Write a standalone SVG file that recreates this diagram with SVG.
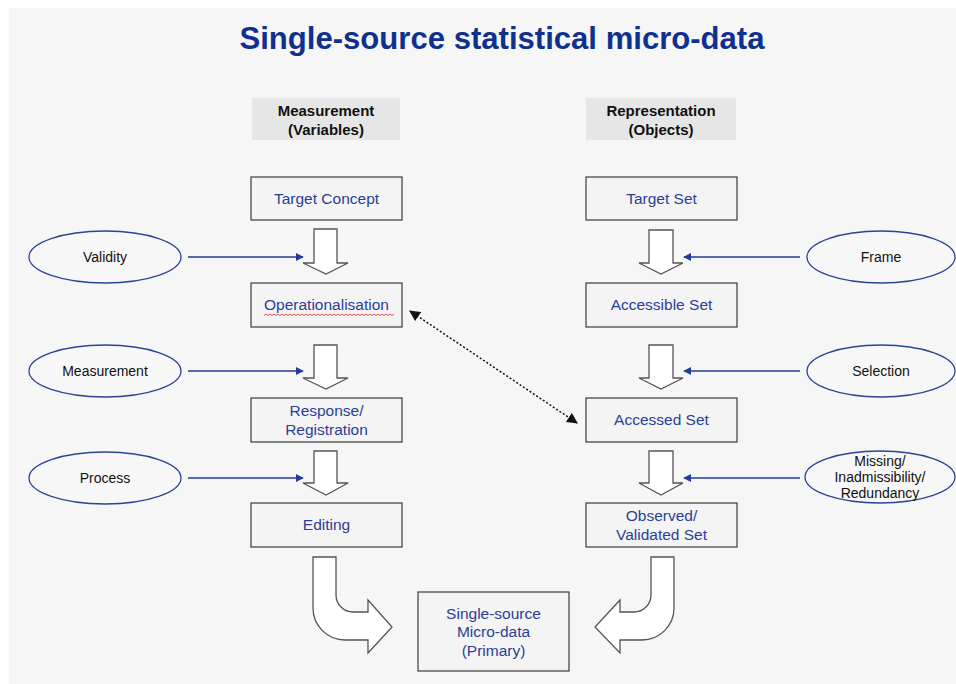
<svg xmlns="http://www.w3.org/2000/svg" width="956" height="684" viewBox="0 0 956 684">
  <defs>
    <style>
      .box { fill: #f4f4f4; stroke: #3a3a3a; stroke-width: 1.2; }
      .hdr { fill: #e6e6e6; stroke: none; }
      .hdrtxt { font-family: "Liberation Sans", Arial, sans-serif; font-size: 15px; font-weight: bold; fill: #111; text-anchor: middle; }
      .btxt { font-family: "Liberation Sans", Arial, sans-serif; font-size: 15.5px; fill: #2a3f98; text-anchor: middle; }
      .ell { fill: #f7f7f7; stroke: #2c4494; stroke-width: 1.3; }
      .etxt { font-family: "Liberation Sans", Arial, sans-serif; font-size: 14px; fill: #111; text-anchor: middle; }
      .blk { fill: #ffffff; stroke: #555; stroke-width: 1.3; stroke-linejoin: miter; }
      .feed { stroke: #1f3d99; stroke-width: 1.5; fill: none; marker-end: url(#blueHead); }
      .dots { stroke: #111; stroke-width: 1.5; stroke-dasharray: 2 2; fill: none; marker-start: url(#blackStart); marker-end: url(#blackEnd); }
    </style>
    <marker id="blueHead" viewBox="0 0 10 10" refX="9" refY="5" markerWidth="8" markerHeight="8" markerUnits="userSpaceOnUse" orient="auto">
      <path d="M0,0 L10,5 L0,10 z" fill="#1f3d99"/>
    </marker>
    <marker id="blackEnd" viewBox="0 0 10 10" refX="9" refY="5" markerWidth="11" markerHeight="11" markerUnits="userSpaceOnUse" orient="auto">
      <path d="M0,0 L10,5 L0,10 z" fill="#111"/>
    </marker>
    <marker id="blackStart" viewBox="0 0 10 10" refX="1" refY="5" markerWidth="11" markerHeight="11" markerUnits="userSpaceOnUse" orient="auto">
      <path d="M10,0 L0,5 L10,10 z" fill="#111"/>
    </marker>
  </defs>

  <!-- slide background -->
  <rect x="0" y="0" width="956" height="684" fill="#ffffff"/>
  <rect x="9" y="8" width="947" height="676" fill="#f6f6f6"/>

  <!-- title -->
  <text x="502" y="49" font-family="'Liberation Sans', Arial, sans-serif" font-size="31" font-weight="bold" fill="#10308f" text-anchor="middle" textLength="525" lengthAdjust="spacingAndGlyphs">Single-source statistical micro-data</text>

  <!-- column headers -->
  <g id="hdr-measurement">
    <rect class="hdr" x="252" y="98" width="148" height="42"/>
    <text class="hdrtxt" x="326" y="116">Measurement</text>
    <text class="hdrtxt" x="326" y="135">(Variables)</text>
  </g>
  <g id="hdr-representation">
    <rect class="hdr" x="586" y="98" width="150" height="42"/>
    <text class="hdrtxt" x="661" y="116">Representation</text>
    <text class="hdrtxt" x="661" y="135">(Objects)</text>
  </g>

  <!-- connectors -->
  <g id="connectors">
    <!-- block arrows, measurement column -->
    <polygon class="blk" points="314,229 337,229 337,263 348,263 326,274 303,263 314,263"/>
    <polygon class="blk" points="314,345 337,345 337,378 348,378 326,389 303,378 314,378"/>
    <polygon class="blk" points="314,451 337,451 337,483 348,483 326,495 303,483 314,483"/>
    <!-- block arrows, representation column -->
    <polygon class="blk" points="649,230 673,230 673,263 683,263 661,274 639,263 649,263"/>
    <polygon class="blk" points="649,345 673,345 673,378 683,378 661,389 639,378 649,378"/>
    <polygon class="blk" points="649,451 673,451 673,483 683,483 661,495 639,483 649,483"/>
    <!-- bent arrows into the result -->
    <path class="blk" d="M313,557 L336,557 L336,595 A17,17 0 0 0 353,612 L368,612 L368,600 L392,627 L368,653 L368,640 L345,640 A32,32 0 0 1 313,608 Z"/>
    <path class="blk" d="M651,557 L674,557 L674,608 A32,32 0 0 1 642,640 L620,640 L620,653 L595,627 L620,600 L620,612 L634,612 A17,17 0 0 0 651,595 Z"/>
    <!-- influence arrows -->
    <line class="feed" x1="188" y1="257" x2="303" y2="257"/>
    <line class="feed" x1="188" y1="371" x2="303" y2="371"/>
    <line class="feed" x1="188" y1="478" x2="303" y2="478"/>
    <line class="feed" x1="800" y1="257" x2="684" y2="257"/>
    <line class="feed" x1="800" y1="371" x2="684" y2="371"/>
    <line class="feed" x1="800" y1="478" x2="684" y2="478"/>
    <!-- link between operationalisation and accessed set -->
    <line class="dots" x1="410" y1="311" x2="577" y2="423"/>
  </g>

  <!-- measurement column -->
  <g id="target-concept">
    <rect class="box" x="251" y="177" width="151" height="43"/>
    <text class="btxt" x="326.5" y="204">Target Concept</text>
  </g>
  <g id="operationalisation">
    <rect class="box" x="251" y="283" width="151" height="44"/>
    <text class="btxt" x="326.5" y="310">Operationalisation</text>
    <path d="M264,315.5 l2,-1.5 l2,1.5 l2,-1.5 l2,1.5 l2,-1.5 l2,1.5 l2,-1.5 l2,1.5 l2,-1.5 l2,1.5 l2,-1.5 l2,1.5 l2,-1.5 l2,1.5 l2,-1.5 l2,1.5 l2,-1.5 l2,1.5 l2,-1.5 l2,1.5 l2,-1.5 l2,1.5 l2,-1.5 l2,1.5 l2,-1.5 l2,1.5 l2,-1.5 l2,1.5 l2,-1.5 l2,1.5 l2,-1.5 l2,1.5 l2,-1.5 l2,1.5 l2,-1.5 l2,1.5 l2,-1.5 l2,1.5 l2,-1.5 l2,1.5 l2,-1.5 l2,1.5 l2,-1.5 l2,1.5 l2,-1.5 l2,1.5 l2,-1.5 l2,1.5 l2,-1.5 l2,1.5 l2,-1.5 l2,1.5 l2,-1.5 l2,1.5 l2,-1.5 l2,1.5 l2,-1.5 l2,1.5 l2,-1.5 l2,1.5 l2,-1.5 l2,1.5 l2,-1.5 l2,1.5 l2,-1.5" fill="none" stroke="#d83030" stroke-width="0.8"/>
  </g>
  <g id="response-registration">
    <rect class="box" x="251" y="398" width="151" height="44"/>
    <text class="btxt" x="326.5" y="416">Response/</text>
    <text class="btxt" x="326.5" y="435">Registration</text>
  </g>
  <g id="editing">
    <rect class="box" x="251" y="503" width="151" height="44"/>
    <text class="btxt" x="326.5" y="530">Editing</text>
  </g>

  <!-- representation column -->
  <g id="target-set">
    <rect class="box" x="586" y="177" width="151" height="43"/>
    <text class="btxt" x="661.5" y="204">Target Set</text>
  </g>
  <g id="accessible-set">
    <rect class="box" x="586" y="283" width="151" height="44"/>
    <text class="btxt" x="661.5" y="310">Accessible Set</text>
  </g>
  <g id="accessed-set">
    <rect class="box" x="586" y="398" width="151" height="44"/>
    <text class="btxt" x="661.5" y="425">Accessed Set</text>
  </g>
  <g id="observed-validated-set">
    <rect class="box" x="586" y="503" width="151" height="44"/>
    <text class="btxt" x="661.5" y="521">Observed/</text>
    <text class="btxt" x="661.5" y="540">Validated Set</text>
  </g>

  <!-- result -->
  <g id="single-source-micro-data">
    <rect class="box" x="418" y="592" width="151" height="79"/>
    <text class="btxt" x="493.5" y="619">Single-source</text>
    <text class="btxt" x="493.5" y="637">Micro-data</text>
    <text class="btxt" x="493.5" y="656">(Primary)</text>
  </g>

  <!-- error sources, measurement side -->
  <g id="validity">
    <ellipse class="ell" cx="105" cy="257" rx="76" ry="26"/>
    <text class="etxt" x="105" y="262">Validity</text>
  </g>
  <g id="measurement">
    <ellipse class="ell" cx="105" cy="371" rx="76" ry="26"/>
    <text class="etxt" x="105" y="376">Measurement</text>
  </g>
  <g id="process">
    <ellipse class="ell" cx="105" cy="478" rx="76" ry="26"/>
    <text class="etxt" x="105" y="483">Process</text>
  </g>

  <!-- error sources, representation side -->
  <g id="frame">
    <ellipse class="ell" cx="881" cy="257" rx="74" ry="26"/>
    <text class="etxt" x="881" y="262">Frame</text>
  </g>
  <g id="selection">
    <ellipse class="ell" cx="881" cy="371" rx="74" ry="26"/>
    <text class="etxt" x="881" y="376">Selection</text>
  </g>
  <g id="missing">
    <ellipse class="ell" cx="880" cy="477" rx="75" ry="26"/>
    <text class="etxt" x="880" y="466" font-size="13.5">Missing/</text>
    <text class="etxt" x="880" y="482" font-size="13.5">Inadmissibility/</text>
    <text class="etxt" x="880" y="498" font-size="13.5">Redundancy</text>
  </g>
</svg>
